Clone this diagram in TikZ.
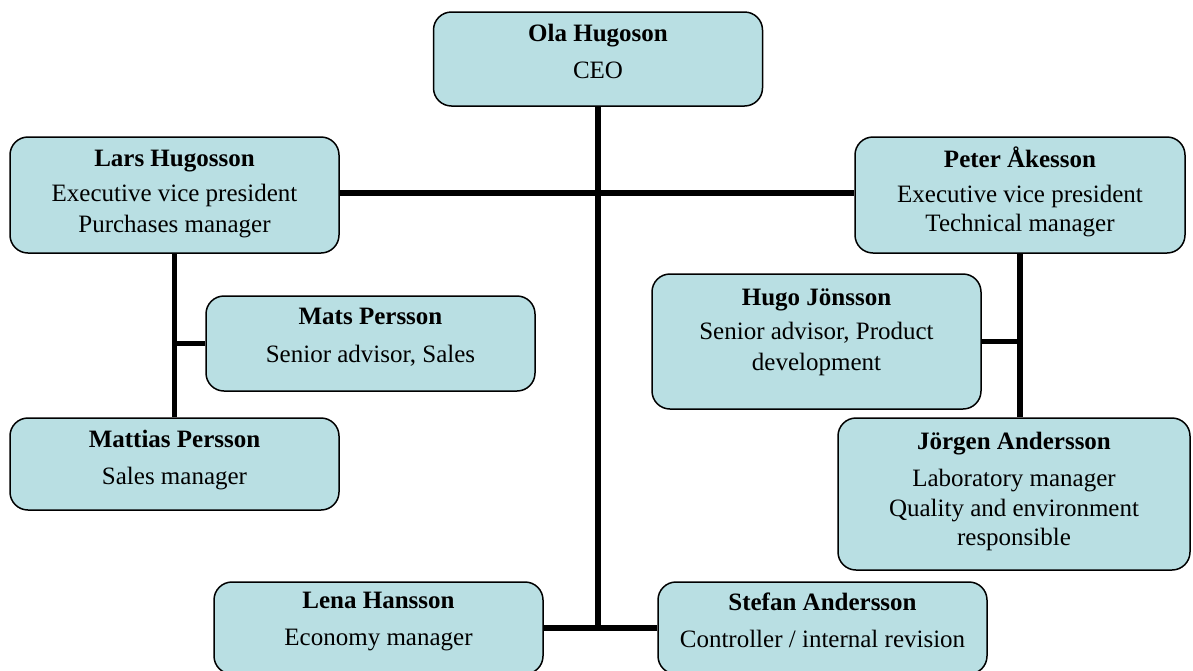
\documentclass[tikz,border=0pt]{standalone}
\usepackage{fontspec}
\setmainfont{Liberation Serif}
\begin{document}
\begin{tikzpicture}[x=1pt,y=-1pt,
  box/.style={draw=black, line width=1.5pt, fill=boxfill, rounded corners=18pt, inner sep=0pt},
  txt/.style={anchor=north, align=center, inner sep=0pt, font=\fontsize{25}{31}\selectfont},
  conn/.style={line width=5.5pt}]
\definecolor{boxfill}{RGB}{185,223,227}
\useasboundingbox (0,0) rectangle (1193,670);
% boxes
\node[box, minimum width=329pt, minimum height=94pt]  (ceo)     at (598,59) {};
\node[box, minimum width=329pt, minimum height=116pt] (lars)    at (174.5,195) {};
\node[box, minimum width=330pt, minimum height=116pt] (peter)   at (1020,195) {};
\node[box, minimum width=329pt, minimum height=95pt]  (mats)    at (370.5,343.5) {};
\node[box, minimum width=329pt, minimum height=135pt] (hugo)    at (816.5,341.5) {};
\node[box, minimum width=329pt, minimum height=92pt]  (mattias) at (174.5,464) {};
\node[box, minimum width=352pt, minimum height=152pt] (jorgen)  at (1014,494) {};
\node[box, minimum width=329pt, minimum height=92pt]  (lena)    at (378.5,628) {};
\node[box, minimum width=329pt, minimum height=92pt]  (stefan)  at (822.5,628) {};
% texts
\node[txt] (ceo-t)     at ([yshift=-13pt]ceo.north)     {\textbf{Ola Hugoson}\\[6pt]CEO};
\node[txt] (lars-t)    at ([yshift=-14pt]lars.north)    {\textbf{Lars Hugosson}\\[4pt]Executive vice president\\Purchases manager};
\node[txt] (peter-t)   at ([yshift=-10pt]peter.north)   {\textbf{Peter Åkesson}\\[4pt]Executive vice president\\[-2pt]Technical manager};
\node[txt] (mats-t)    at ([yshift=-13pt]mats.north)    {\textbf{Mats Persson}\\[7pt]Senior advisor, Sales};
\node[txt] (hugo-t)    at ([yshift=-15pt]hugo.north)    {\textbf{Hugo Jönsson}\\[3pt]Senior advisor, Product\\development};
\node[txt] (mattias-t) at ([yshift=-13pt]mattias.north) {\textbf{Mattias Persson}\\[6pt]Sales manager};
\node[txt] (jorgen-t)  at ([yshift=-15pt]jorgen.north)  {\textbf{Jörgen Andersson}\\[6pt]Laboratory manager\\[-1pt]Quality and environment\\[-2pt]responsible};
\node[txt] (lena-t)    at ([yshift=-11pt]lena.north)    {\textbf{Lena Hansson}\\[6pt]Economy manager};
\node[txt] (stefan-t)  at ([yshift=-11pt]stefan.north)  {\textbf{Stefan Andersson}\\[6pt]Controller / internal revision};
% junctions
\coordinate (jt) at (598,193);
\coordinate (jb) at (598,628);
% connectors
\draw[conn] (ceo.south) -- (jb);
\draw[conn] (lars.east |- jt) -- (peter.west |- jt);
\draw[conn] (lena.east) -- (stefan.west);
\draw[conn] (lars.south) -- (mattias.north);
\draw[conn] (mats.west) -- (mats.west -| lars.south);
\draw[conn] (peter.south) -- (peter.south |- jorgen.north);
\draw[conn] (hugo.east) -- (hugo.east -| peter.south);
\end{tikzpicture}
\end{document}
